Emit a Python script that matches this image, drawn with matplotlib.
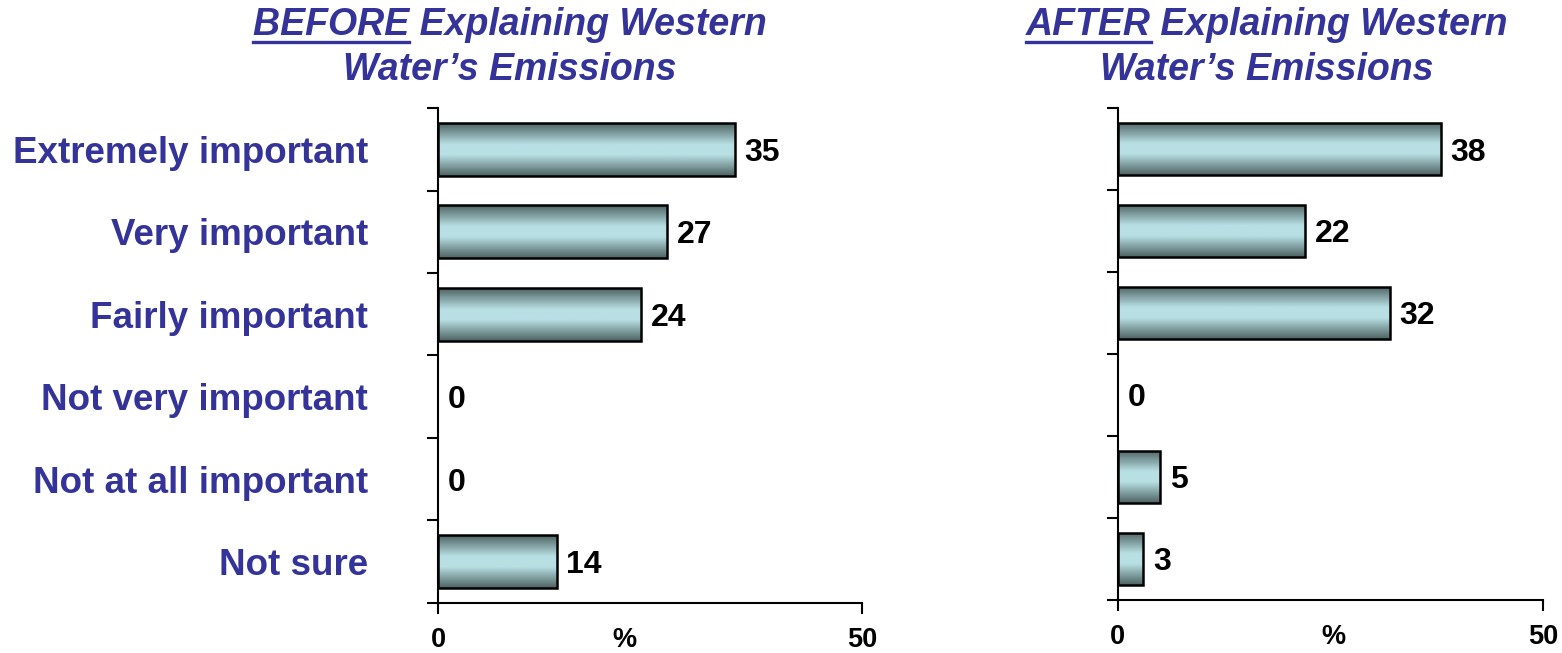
import numpy as np
import matplotlib
matplotlib.use("Agg")
from matplotlib import pyplot as plt
from matplotlib.colors import LinearSegmentedColormap

categories = ["Extremely important", "Very important", "Fairly important",
              "Not very important", "Not at all important", "Not sure"]
before = [35, 27, 24, 0, 0, 14]
after = [38, 22, 32, 0, 5, 3]
titles = [("BEFORE", " Explaining Western", "Water\u2019s Emissions"),
          ("AFTER", " Explaining Western", "Water\u2019s Emissions")]

blue = "#333399"
plt.rcParams["font.family"] = ["Liberation Sans", "DejaVu Sans"]
plt.rcParams["font.weight"] = "bold"

grad = LinearSegmentedColormap.from_list(
    "bar", [(0.0, "#4f6464"), (0.4, "#b8e0e4"), (0.6, "#b8e0e4"), (1.0, "#4f6464")])

fig = plt.figure(figsize=(15.62, 6.53), dpi=100)
ax1 = fig.add_axes([0.2804, 0.0766, 0.2714, 0.758])
ax2 = fig.add_axes([0.7157, 0.0812, 0.2721, 0.7534])


def draw_panel(ax, values, pct_x):
    y = np.arange(len(values))
    lw = [1.8 if v > 0 else 0 for v in values]
    bars = ax.barh(y, values, height=0.64, color="none", edgecolor="black",
                   linewidth=lw, zorder=3)
    g = np.linspace(0, 1, 64).reshape(-1, 1)
    for b, v in zip(bars, values):
        if v > 0:
            x0, y0 = b.get_x(), b.get_y()
            im = ax.imshow(g, cmap=grad, aspect="auto", zorder=2,
                           extent=[x0, x0 + b.get_width(), y0 + b.get_height(), y0])
            im.set_clip_path(b)
        ax.annotate(str(v), (v, b.get_y() + b.get_height() / 2), xytext=(7, 0),
                    textcoords="offset points", ha="left", va="center_baseline",
                    fontsize=23, fontweight="bold", color="black")
    ax.set_xlim(0, 50)
    ax.set_ylim(len(values) - 0.5, -0.5)
    ax.set_yticks(np.arange(len(values) + 1) - 0.5)
    ax.set_yticklabels([])
    ax.set_xticks([0, 50])
    ax.set_xticklabels(["0", "50"], fontsize=19.5, fontweight="bold")
    ax.tick_params(axis="y", direction="out", length=8, width=1.5)
    ax.tick_params(axis="x", direction="out", length=8, width=1.5, pad=9)
    for s in ["top", "right"]:
        ax.spines[s].set_visible(False)
    for s in ["left", "bottom"]:
        ax.spines[s].set_linewidth(1.5)
    ax.text(pct_x, -0.048, "%", transform=ax.transAxes, ha="center", va="top",
            fontsize=19.5, fontweight="bold")


draw_panel(ax1, before, 0.439)
draw_panel(ax2, after, 0.508)

for i, c in enumerate(categories):
    ax1.text(-0.165, i, c, transform=ax1.get_yaxis_transform(), ha="right",
             va="center_baseline", fontsize=26.5, fontweight="bold", color=blue)

renderer = fig.canvas.get_renderer()
for (first, rest, line2), cx in zip(titles, [510 / 1562, 1267 / 1562]):
    tprops = dict(fontsize=27, fontweight="bold", fontstyle="italic", color=blue)
    t1 = fig.text(cx, 1 - 25 / 653, first + rest, ha="center", va="center", **tprops)
    fig.text(cx, 1 - 70 / 653, line2, ha="center", va="center", **tprops)
    probe = fig.text(0, 0, first, **tprops)
    w = probe.get_window_extent(renderer).width
    probe.remove()
    bb = t1.get_window_extent(renderer)
    uy = (bb.y0 + 1) / fig.bbox.height
    fig.add_artist(plt.Line2D([bb.x0 / fig.bbox.width, (bb.x0 + w) / fig.bbox.width],
                              [uy, uy], color=blue, linewidth=2.4))

fig.savefig("out.png", dpi=100)
